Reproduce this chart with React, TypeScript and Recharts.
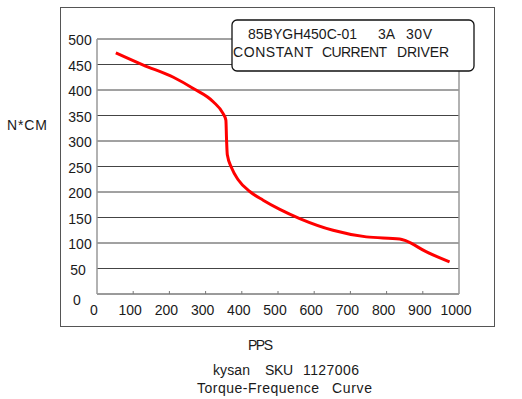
import React from "react";
import { LineChart, Line, XAxis, YAxis, CartesianGrid, ReferenceLine } from "recharts";

const ppsValues = [52, 128, 211, 266, 321, 348, 356, 358, 360, 372, 390, 422, 459, 505, 560, 652, 744, 836, 854, 909, 974];
const torqueValues = [473, 449, 425, 403, 377, 354, 341, 300, 273, 247, 224, 201, 184, 166, 148, 125, 112, 108, 104, 83, 63];
const yTicks = [0, 50, 100, 150, 200, 250, 300, 350, 400, 450, 500];
const xTicks = [0, 100, 200, 300, 400, 500, 600, 700, 800, 900, 1000];

const boxLine1 = ["85BYGH450C-01", "3A", "30V"];
const boxLine2 = ["CONSTANT", "CURRENT", "DRIVER"];
const yLabel = "N*CM";
const xLabel = "PPS";
const caption1 = ["kysan", "SKU", "1127006"];
const caption2 = ["Torque-Frequence", "Curve"];

const data = ppsValues.map((p, i) => ({ pps: p, torque: torqueValues[i] }));

const FONT = "'Liberation Sans', Arial, sans-serif";
const TXT = "#1a1a1a";

const YTick = (props: any) => {
  const { x, y, payload } = props;
  const v = payload.value;
  const cx = v === 0 ? x - 20 : v === 50 ? x - 19 : x - 17;
  const dy = v === 0 ? 11 : 6;
  return (
    <text x={cx} y={y + dy} textAnchor="middle" fontFamily={FONT} fontSize={14} fill={TXT}>
      {v}
    </text>
  );
};

const XTick = (props: any) => {
  const { x, y, payload } = props;
  const v = payload.value;
  return (
    <g>
      {v !== 0 && v !== 1000 ? <line x1={x} y1={y} x2={x} y2={y - 3} stroke="#777" strokeWidth={1} /> : null}
      <text x={x - 3} y={y + 21} textAnchor="middle" fontFamily={FONT} fontSize={14} fill={TXT}>
        {v}
      </text>
    </g>
  );
};

const W = (props: { x: number; y: number; len: number; children: string }) => (
  <text x={props.x} y={props.y} textLength={props.len} lengthAdjust="spacing">
    {props.children}
  </text>
);

export default function App() {
  return (
    <div style={{ position: "absolute", left: 0, top: 0, width: 522, height: 399, background: "#fff" }}>
      <LineChart
        width={522}
        height={399}
        data={data}
        margin={{ top: 39, right: 63, bottom: 75, left: 57 }}
      >
        <CartesianGrid vertical={false} stroke="#444" strokeWidth={1} />
        <XAxis
          dataKey="pps"
          type="number"
          domain={[0, 1000]}
          ticks={xTicks}
          height={30}
          tickLine={false}
          tickSize={0}
          tickMargin={0}
          axisLine={{ stroke: "#999", strokeWidth: 1.5 }}
          tick={<XTick />}
          interval={0}
        />
        <YAxis
          type="number"
          domain={[0, 500]}
          ticks={yTicks}
          width={40}
          tickLine={false}
          tickSize={0}
          tickMargin={0}
          axisLine={{ stroke: "#999", strokeWidth: 1.5 }}
          tick={<YTick />}
          interval={0}
        />
        <ReferenceLine x={1000} stroke="#999" strokeWidth={1.5} />
        <Line
          type="monotone"
          dataKey="torque"
          stroke="#ff0000"
          strokeWidth={3}
          dot={false}
          isAnimationActive={false}
        />
      </LineChart>
      <svg
        width={522}
        height={399}
        style={{ position: "absolute", left: 0, top: 0, pointerEvents: "none" }}
      >
        <rect x={60.5} y={7.5} width={434} height={319} fill="none" stroke="#555" strokeWidth={1} />
        <rect x={232} y={20} width={242} height={51} rx={5} ry={5} fill="#fff" stroke="#111" strokeWidth={1.3} />
        <g fontFamily={FONT} fontSize={14} fill={TXT}>
          <W x={248} y={39} len={109}>{boxLine1[0]}</W>
          <W x={378} y={39} len={17}>{boxLine1[1]}</W>
          <W x={406} y={39} len={26}>{boxLine1[2]}</W>
          <W x={233} y={57} len={80}>{boxLine2[0]}</W>
          <W x={322} y={57} len={65}>{boxLine2[1]}</W>
          <W x={397} y={57} len={52}>{boxLine2[2]}</W>
          <W x={7} y={130} len={40}>{yLabel}</W>
          <W x={248} y={350} len={25}>{xLabel}</W>
          <W x={213} y={375} len={37}>{caption1[0]}</W>
          <W x={265} y={375} len={28}>{caption1[1]}</W>
          <W x={303} y={375} len={56}>{caption1[2]}</W>
          <W x={197} y={393} len={122}>{caption2[0]}</W>
          <W x={332} y={393} len={40}>{caption2[1]}</W>
        </g>
      </svg>
    </div>
  );
}
